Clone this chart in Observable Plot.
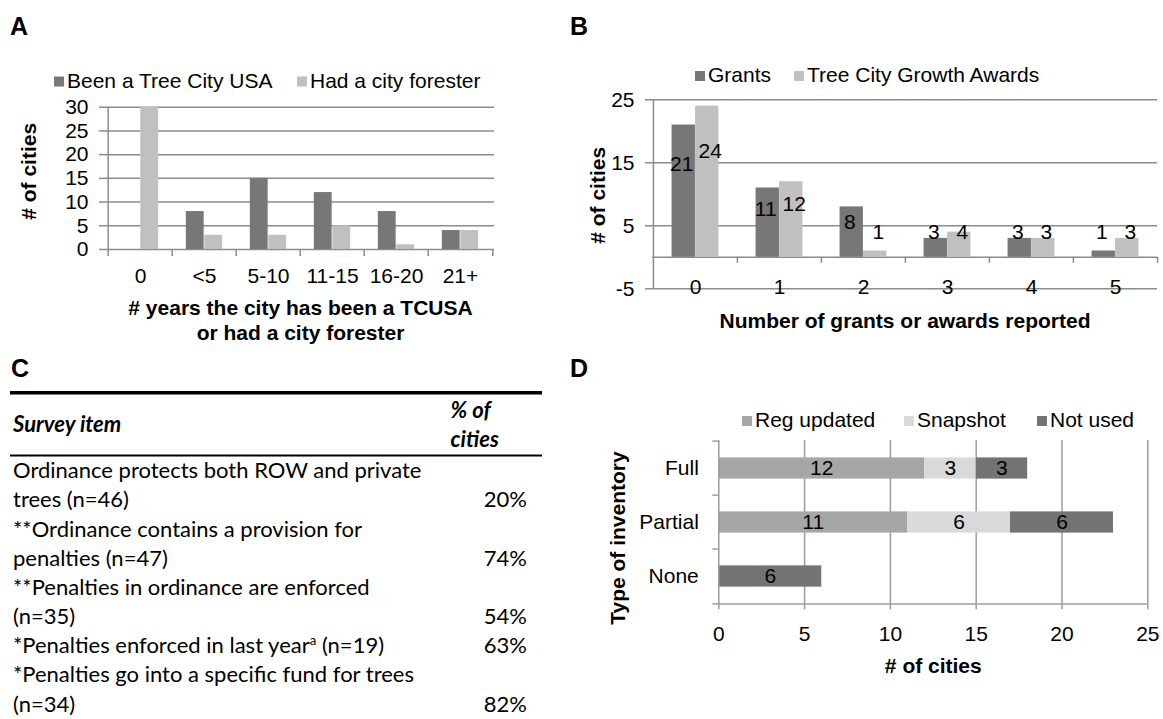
<!DOCTYPE html>
<html><head><meta charset="utf-8">
<script src="https://cdn.jsdelivr.net/npm/d3@7"></script>
<script src="https://cdn.jsdelivr.net/npm/@observablehq/plot@0.6"></script>
<style>
body{margin:0;background:#fff;}
#root{position:relative;width:1163px;height:719px;overflow:hidden;background:#fff;}
</style></head><body><div id="root"></div>
<script>
// ---------- Panel A data ----------
const catsA = ["0", "<5", "5-10", "11-15", "16-20", "21+"];
const seriesA = ["Been a Tree City USA", "Had a city forester"];
const treeCityA = [0, 8, 15, 12, 8, 4];
const foresterA = [30, 3, 3, 5, 1, 4];
const ticksA = [0, 5, 10, 15, 20, 25, 30];
const titleXA = "# years the city has been a TCUSA\nor had a city forester";

// ---------- Panel B data ----------
const catsB = ["0", "1", "2", "3", "4", "5"];
const seriesB = ["Grants", "Tree City Growth Awards"];
const grantsB = [21, 11, 8, 3, 3, 1];
const awardsB = [24, 12, 1, 4, 3, 3];
const ticksB = [-5, 5, 15, 25];
const titleXB = "Number of grants or awards reported";

// ---------- Panel C data ----------
const tableHead = ["Survey item", "% of", "cities"];
const surveyItems = [
  ["Ordinance protects both ROW and private", "trees (n=46)"],
  ["**Ordinance contains a provision for", "penalties (n=47)"],
  ["**Penalties in ordinance are enforced", "(n=35)"],
  ["*Penalties enforced in last year^a (n=19)"],
  ["*Penalties go into a specific fund for trees", "(n=34)"]
];
const surveyPct = ["20%", "74%", "54%", "63%", "82%"];

// ---------- Panel D data ----------
const typesD = ["Full", "Partial", "None"];
const seriesD = ["Reg updated", "Snapshot", "Not used"];
const regUpdatedD = [12, 11, 0];
const snapshotD = [3, 6, 0];
const notUsedD = [3, 6, 6];
const ticksD = [0, 5, 10, 15, 20, 25];

const yTitle = "# of cities";
const yTitleD = "Type of inventory";

// ---------- styles ----------
const FONT = '"Liberation Sans", Arial, sans-serif';
const GRID = "#8c8c8c";
const GRID_D = "#9c9c9c";
const colA = ["#777777", "#c0c0c0"];
const colD = ["#a6a6a6", "#d9d9d9", "#737373"];
const SW = 1.5;

const root = document.getElementById("root");
function place(svg, left, top) {
  svg.style.position = "absolute";
  svg.style.left = left + "px";
  svg.style.top = top + "px";
  svg.style.background = "transparent";
  svg.style.overflow = "visible";
  root.appendChild(svg);
}
const baseStyle = {fontFamily: FONT, fontSize: "21px", background: "transparent", color: "#000", overflow: "visible"};
const plain = d => String(d);

// ---------- Panel A ----------
{
  const L = {w: 580, h: 345, ml: 106, mr: 86, mt: 106.7, mb: 96};
  const bw = (L.w - L.ml - L.mr) / catsA.length;
  const px = (L.h - L.mt - L.mb) / 30;
  const barW = 18.5, ins = (bw - barW) / 2;
  const rows = catsA.map((c, i) => ({cat: c, a: treeCityA[i], b: foresterA[i]}));
  const svg = Plot.plot({
    width: L.w, height: L.h, marginLeft: L.ml, marginRight: L.mr, marginTop: L.mt, marginBottom: L.mb,
    style: baseStyle,
    x: {type: "band", domain: catsA, padding: 0, axis: null},
    y: {domain: [0, 30]},
    marks: [
      Plot.ruleY(ticksA, {stroke: GRID, strokeWidth: SW}),
      Plot.barY(rows, {x: "cat", y: "a", fill: colA[0], insetLeft: ins, insetRight: ins, dx: -barW / 2}),
      Plot.barY(rows, {x: "cat", y: "b", fill: colA[1], insetLeft: ins, insetRight: ins, dx: barW / 2}),
      Plot.ruleX([catsA[0]], {dx: -bw / 2, stroke: GRID, strokeWidth: SW}),
      Plot.ruleX(catsA, {x: d => d, dx: -bw / 2, y1: 0, y2: -7 / px, stroke: GRID, strokeWidth: SW}),
      Plot.ruleX([catsA[catsA.length - 1]], {x: d => d, dx: bw / 2, y1: 0, y2: -7 / px, stroke: GRID, strokeWidth: SW}),
      Plot.axisY({ticks: ticksA, tickSize: 7, tickPadding: 11, tickFormat: plain, stroke: GRID, strokeWidth: SW, fill: "#000", label: null}),
      Plot.text(catsA, {x: d => d, frameAnchor: "bottom", dy: 27, lineAnchor: "middle", fill: "#000"}),
      Plot.text([titleXA], {frameAnchor: "bottom", dy: 48, textAnchor: "middle", lineAnchor: "top", fontWeight: "bold", lineHeight: 25 / 21}),
      Plot.text([yTitle], {frameAnchor: "left", rotate: -90, dx: -77, dy: -7, textAnchor: "middle", lineAnchor: "middle", fontWeight: "bold"})
    ]
  });
  place(svg, 0, 0);
}

// ---------- Panel B ----------
{
  const L = {w: 583, h: 345, ml: 72, mr: 6, mt: 99.3, mb: 56.7};
  const bw = (L.w - L.ml - L.mr) / catsB.length;
  const px = (L.h - L.mt - L.mb) / 30;
  const barW = 23.5, ins = (bw - barW) / 2;
  const rows = catsB.map((c, i) => ({cat: c, a: grantsB[i], b: awardsB[i]}));
  const labelAt = v => Math.max(v * 0.7, 4);
  const svg = Plot.plot({
    width: L.w, height: L.h, marginLeft: L.ml, marginRight: L.mr, marginTop: L.mt, marginBottom: L.mb,
    style: baseStyle,
    x: {type: "band", domain: catsB, padding: 0, axis: null},
    y: {domain: [-5, 25]},
    marks: [
      Plot.ruleY(ticksB, {stroke: GRID, strokeWidth: SW}),
      Plot.ruleY([0], {stroke: GRID, strokeWidth: SW}),
      Plot.barY(rows, {x: "cat", y: "a", fill: colA[0], insetLeft: ins, insetRight: ins, dx: -barW / 2}),
      Plot.barY(rows, {x: "cat", y: "b", fill: colA[1], insetLeft: ins, insetRight: ins, dx: barW / 2}),
      Plot.ruleX([catsB[0]], {dx: -bw / 2, stroke: GRID, strokeWidth: SW}),
      Plot.ruleX(catsB.slice(1), {x: d => d, dx: -bw / 2, y1: 0, y2: -6 / px, stroke: GRID, strokeWidth: SW}),
      Plot.ruleX([catsB[catsB.length - 1]], {x: d => d, dx: bw / 2, y1: 0, y2: -6 / px, stroke: GRID, strokeWidth: SW}),
      Plot.axisY({ticks: ticksB, tickSize: 7, tickPadding: 11, tickFormat: plain, stroke: GRID, strokeWidth: SW, fill: "#000", label: null}),
      Plot.text(catsB, {x: d => d, frameAnchor: "bottom", dy: -2, lineAnchor: "middle", fill: "#000"}),
      Plot.text(rows, {x: "cat", y: d => labelAt(d.a), text: d => String(d.a), dx: -barW / 2 - 2, fill: "#000"}),
      Plot.text(rows, {x: "cat", y: d => labelAt(d.b), text: d => String(d.b), dx: barW / 2 + 3, fill: "#000"}),
      Plot.text([titleXB], {frameAnchor: "bottom", dy: 24.7, textAnchor: "middle", lineAnchor: "top", fontWeight: "bold"}),
      Plot.text([yTitle], {frameAnchor: "left", rotate: -90, dx: -54.5, dy: 1, textAnchor: "middle", lineAnchor: "middle", fontWeight: "bold"})
    ]
  });
  place(svg, 580, 0);
}

// ---------- Panel D ----------
{
  const L = {w: 583, h: 379, ml: 138.3, mr: 15.7, mt: 100, mb: 114.7};
  const px = (L.w - L.ml - L.mr) / 25;
  const bw = (L.h - L.mt - L.mb) / typesD.length;
  const barH = 22, ins = (bw - barH) / 2;
  const rows = typesD.flatMap((t, i) => [
    {type: t, series: seriesD[0], value: regUpdatedD[i]},
    {type: t, series: seriesD[1], value: snapshotD[i]},
    {type: t, series: seriesD[2], value: notUsedD[i]}
  ]);
  const last = typesD[typesD.length - 1];
  const svg = Plot.plot({
    width: L.w, height: L.h, marginLeft: L.ml, marginRight: L.mr, marginTop: L.mt, marginBottom: L.mb,
    style: baseStyle,
    x: {domain: [0, 25]},
    y: {type: "band", domain: typesD, padding: 0},
    color: {domain: seriesD, range: colD},
    marks: [
      Plot.ruleX(ticksD.slice(1), {stroke: GRID_D, strokeWidth: SW}),
      Plot.barX(rows, Plot.stackX({y: "type", x: "value", fill: "series", insetTop: ins, insetBottom: ins})),
      Plot.text(rows.filter(d => d.value > 0), Plot.stackX({y: "type", x: "value", text: d => String(d.value), fill: "#000"})),
      Plot.ruleX([0], {stroke: GRID_D, strokeWidth: SW}),
      Plot.ruleY([last], {dy: bw / 2, stroke: GRID_D, strokeWidth: SW}),
      Plot.ruleY(typesD, {dy: -bw / 2, x1: 0, x2: -6 / px, stroke: GRID_D, strokeWidth: SW}),
      Plot.ruleY([last], {dy: bw / 2, x1: 0, x2: -6 / px, stroke: GRID_D, strokeWidth: SW}),
      Plot.axisX({ticks: ticksD, tickSize: 5, tickPadding: 16, tickFormat: plain, stroke: GRID_D, strokeWidth: SW, fill: "#000", label: null}),
      Plot.axisY({tickSize: 0, tickPadding: 20, fill: "#000", label: null}),
      Plot.text([yTitle], {frameAnchor: "bottom", dy: 53.7, textAnchor: "middle", lineAnchor: "top", fontWeight: "bold"}),
      Plot.text([yTitleD], {frameAnchor: "left", rotate: -90, dx: -100.8, dy: 15.4, textAnchor: "middle", lineAnchor: "middle", fontWeight: "bold"})
    ]
  });
  place(svg, 580, 340);
}

// ---------- Overlay: panel letters, legends, table ----------
const ov = d3.select(root).append("svg")
  .attr("width", 1163).attr("height", 719)
  .style("position", "absolute").style("left", "0px").style("top", "0px")
  .style("overflow", "visible");

const letters = [["A", 10, 35], ["B", 570, 35], ["C", 11, 376.7], ["D", 570, 377]];
ov.selectAll("text.letter").data(letters).join("text")
  .attr("class", "letter")
  .attr("x", d => d[1]).attr("y", d => d[2])
  .attr("font-family", FONT).attr("font-weight", "bold").attr("font-size", 25)
  .text(d => d[0]);

function legend(names, colors, textX, baseline) {
  const g = ov.append("g").attr("font-family", FONT).attr("font-size", 21);
  names.forEach((n, i) => {
    g.append("rect").attr("x", textX[i] - 13).attr("y", baseline - 11).attr("width", 10).attr("height", 10).attr("fill", colors[i]);
    g.append("text").attr("x", textX[i]).attr("y", baseline).text(n);
  });
}
legend(seriesA, colA, [67, 310], 87.5);
legend(seriesB, colA, [708, 807], 82);
legend(seriesD, colD, [755, 917, 1050], 427);

// Table (panel C)
const CFONT = 'Lato, "Open Sans", "Noto Sans", sans-serif';
const ctx = document.createElement("canvas").getContext("2d");
ctx.font = "100px Lato";
const fsC = 100 * 409 / ctx.measureText(surveyItems[0][0]).width;
const tg = ov.append("g").attr("font-family", CFONT).attr("font-size", fsC);
tg.append("rect").attr("x", 10).attr("y", 391).attr("width", 532).attr("height", 3.5).attr("fill", "#000");
tg.append("rect").attr("x", 10).attr("y", 454.5).attr("width", 532).attr("height", 2).attr("fill", "#000");
tg.append("text").attr("x", 13).attr("y", 431.7).attr("font-weight", "bold").attr("font-style", "italic").text(tableHead[0]);
tg.append("text").attr("x", 450.6).attr("y", 418.3).attr("font-weight", "bold").attr("font-style", "italic").text(tableHead[1]);
tg.append("text").attr("x", 450.6).attr("y", 447.3).attr("font-weight", "bold").attr("font-style", "italic").text(tableHead[2]);
let line = 0;
const base0 = 478.3, step = 29.17;
surveyItems.forEach((lines, k) => {
  lines.forEach(s => {
    const y = base0 + step * line;
    const t = tg.append("text").attr("x", 13).attr("y", y);
    const parts = s.split(/\^(\w)/);
    parts.forEach((p, j) => {
      if (j % 2 === 1) {
        t.append("tspan").attr("dy", -8).attr("font-size", fsC * 0.6).text(p);
      } else if (j > 0) {
        t.append("tspan").attr("dy", 8).text(p);
      } else {
        t.append("tspan").text(p);
      }
    });
    line++;
  });
  tg.append("text").attr("x", 527).attr("y", base0 + step * (line - 1)).attr("text-anchor", "end").text(surveyPct[k]);
});
</script>
</body></html>
